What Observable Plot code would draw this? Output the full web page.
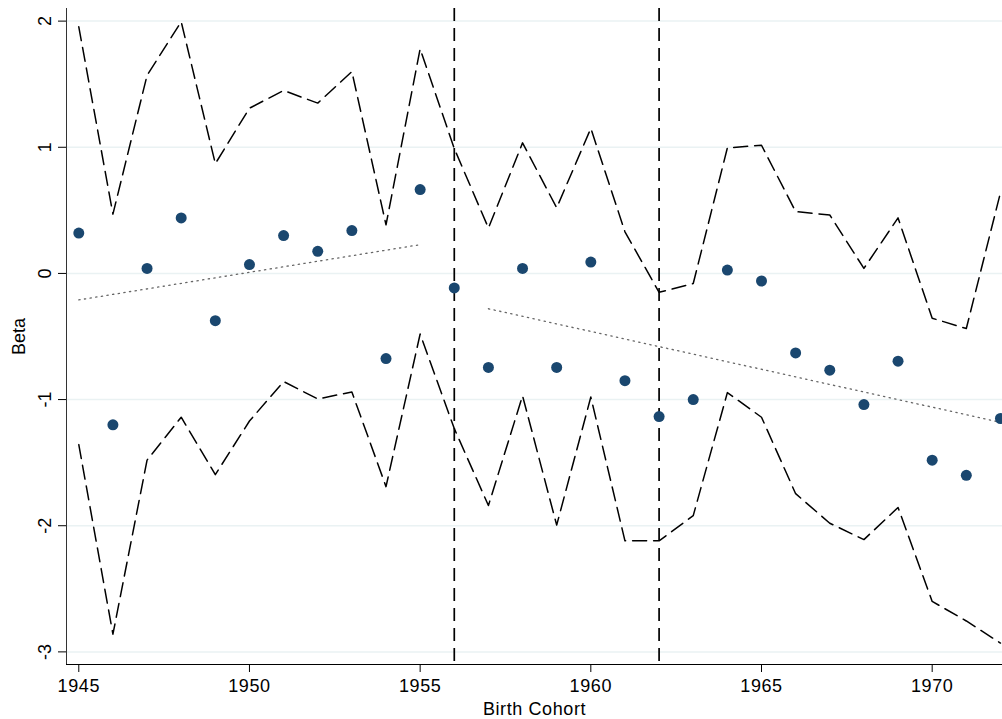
<!DOCTYPE html>
<html>
<head>
<meta charset="utf-8">
<script src="https://cdn.jsdelivr.net/npm/d3@7"></script>
<script src="https://cdn.jsdelivr.net/npm/@observablehq/plot@0.6"></script>
<style>
  html, body { margin: 0; padding: 0; background: #ffffff; }
  #chart { width: 1002px; height: 719px; }
  #chart svg g[aria-label="x-axis tick label"] text,
  #chart svg g[aria-label="x-axis label"] text { letter-spacing: 0.6px; }
</style>
</head>
<body>
<div id="chart"></div>
<script>
// ---- Data ----
const cohorts = [1945, 1946, 1947, 1948, 1949, 1950, 1951, 1952, 1953, 1954, 1955, 1956, 1957, 1958,
                 1959, 1960, 1961, 1962, 1963, 1964, 1965, 1966, 1967, 1968, 1969, 1970, 1971, 1972];
const beta  = [0.32, -1.20, 0.04, 0.44, -0.375, 0.07, 0.30, 0.175, 0.34, -0.675, 0.665, -0.115, -0.745, 0.04,
               -0.745, 0.09, -0.85, -1.135, -1.00, 0.027, -0.06, -0.63, -0.767, -1.04, -0.696, -1.48, -1.60, -1.15];
const upper = [1.955, 0.47, 1.57, 1.995, 0.87, 1.31, 1.45, 1.35, 1.60, 0.385, 1.78, 0.99, 0.36, 1.035,
               0.52, 1.15, 0.33, -0.15, -0.08, 0.995, 1.016, 0.49, 0.463, 0.04, 0.44, -0.355, -0.437, 0.64];
const lower = [-1.357, -2.86, -1.48, -1.14, -1.595, -1.17, -0.857, -0.995, -0.94, -1.69, -0.48, -1.23, -1.84, -0.97,
               -1.995, -0.98, -2.12, -2.12, -1.92, -0.945, -1.14, -1.746, -1.98, -2.11, -1.855, -2.60, -2.755, -2.93];
const fit1Years = [1945, 1955];
const fit1Vals  = [-0.21, 0.228];
const fit2Years = [1957, 1972];
const fit2Vals  = [-0.28, -1.18];
const breakYears = [1956, 1962];
const xTicks = [1945, 1950, 1955, 1960, 1965, 1970];
const yTicks = [-3, -2, -1, 0, 1, 2];

// ---- Tables built from the arrays ----
const rows = cohorts.map((c, i) => ({cohort: c, beta: beta[i], upper: upper[i], lower: lower[i]}));
const fit1 = fit1Years.map((c, i) => ({cohort: c, value: fit1Vals[i]}));
const fit2 = fit2Years.map((c, i) => ({cohort: c, value: fit2Vals[i]}));

const chart = Plot.plot({
  width: 1002,
  height: 719,
  marginLeft: 66,
  marginRight: 0,
  marginTop: 8,
  marginBottom: 55,
  style: {
    fontFamily: "'Liberation Sans', Arial, Helvetica, sans-serif",
    fontSize: "18px",
    background: "#ffffff",
    color: "#000000"
  },
  x: {domain: [1944.64, 1972.06]},
  y: {domain: [-3.1, 2.1]},
  marks: [
    Plot.gridY(yTicks, {stroke: "#eaf2f3", strokeOpacity: 1, strokeWidth: 1.5}),
    Plot.line(rows, {x: "cohort", y: "upper", stroke: "#000", strokeWidth: 1.5, strokeDasharray: "14,7"}),
    Plot.line(rows, {x: "cohort", y: "lower", stroke: "#000", strokeWidth: 1.5, strokeDasharray: "14,7"}),
    Plot.line(fit1, {x: "cohort", y: "value", stroke: "#666", strokeWidth: 1.3, strokeDasharray: "1.3,4.4"}),
    Plot.line(fit2, {x: "cohort", y: "value", stroke: "#666", strokeWidth: 1.3, strokeDasharray: "1.3,4.4"}),
    Plot.ruleX(breakYears, {stroke: "#000", strokeWidth: 1.7, strokeDasharray: "13,7"}),
    Plot.dot(rows, {x: "cohort", y: "beta", r: 5.5, fill: "#1a476f", stroke: "none"}),
    Plot.frame({anchor: "left", stroke: "#333"}),
    Plot.frame({anchor: "bottom", stroke: "#000"}),
    Plot.axisX(xTicks, {
      tickSize: 8, tickPadding: 7, tickFormat: d => String(d),
      label: "Birth Cohort", labelAnchor: "center", labelOffset: 50, labelArrow: "none"
    }),
    Plot.axisY(yTicks, {
      tickSize: 8, tickPadding: 8, tickRotate: -90, tickFormat: d => String(d),
      label: "Beta", labelAnchor: "center", labelOffset: 54, labelArrow: "none"
    })
  ]
});
document.getElementById("chart").appendChild(chart);
</script>
</body>
</html>
